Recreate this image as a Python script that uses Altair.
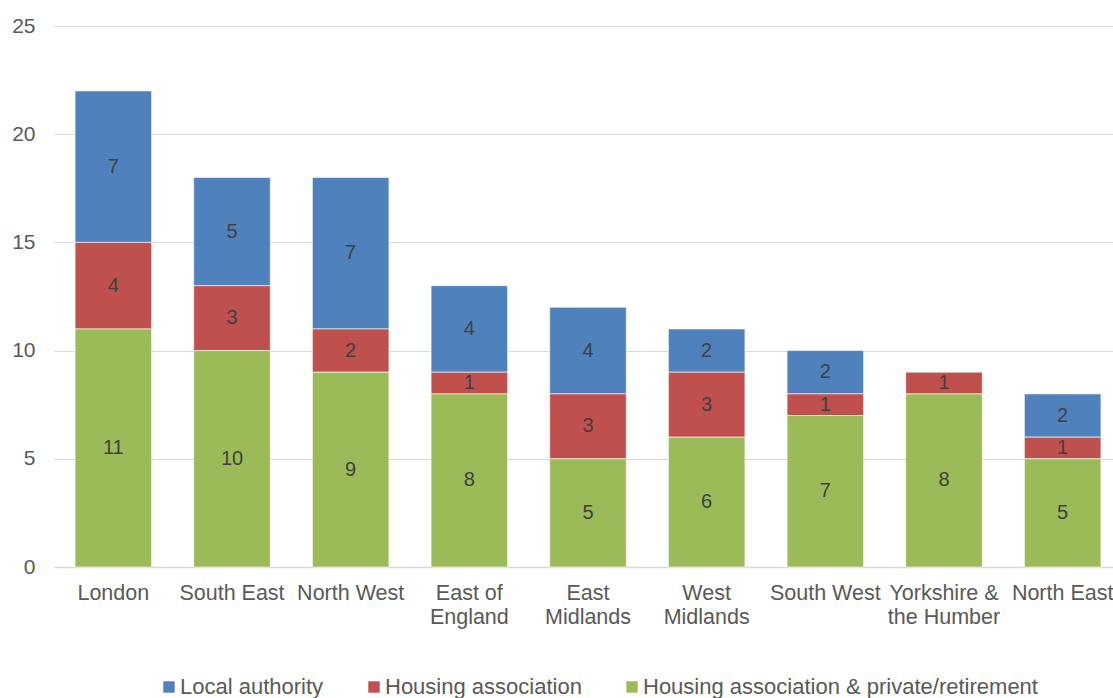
import altair as alt
import pandas as pd

regions = ["London", "South East", "North West", "East of England", "East Midlands",
           "West Midlands", "South West", "Yorkshire & the Humber", "North East"]
region_labels = ["London", "South East", "North West", "East of\nEngland", "East\nMidlands",
                 "West\nMidlands", "South West", "Yorkshire &\nthe Humber", "North East"]

series = ["Local authority", "Housing association", "Housing association & private/retirement"]
colors = ["#4F81BD", "#C0504D", "#9BBB59"]

local_authority = [7, 5, 7, 4, 4, 2, 2, 0, 2]
housing_association = [4, 3, 2, 1, 3, 3, 1, 1, 1]
ha_private_retirement = [11, 10, 9, 8, 5, 6, 7, 8, 5]

# stacking order: bottom (0) to top (2)
stack_rank = {series[2]: 0, series[1]: 1, series[0]: 2}

rows = []
for name, vals in zip(series, [local_authority, housing_association, ha_private_retirement]):
    for lab, v in zip(region_labels, vals):
        rows.append({"region": lab, "series": name, "value": v, "rank": stack_rank[name]})
df = pd.DataFrame(rows)

label_expr = "split(datum.label, '\\n')"
FONT = "Liberation Sans"
y_scale = alt.Scale(domain=[0, 25], nice=False)
# the category band runs slightly past the right edge of the view
x_scale = alt.Scale(paddingInner=0.355, paddingOuter=0.1775, range=[0, 1068])

base = alt.Chart(df).transform_stack(
    stack="value", groupby=["region"], as_=["y0", "y1"],
    sort=[alt.SortField("rank", order="ascending")]
).transform_calculate(mid="(datum.y0 + datum.y1) / 2")

x_enc = alt.X("region:N", sort=region_labels, title=None, scale=x_scale,
              axis=alt.Axis(labelAngle=0, labelExpr=label_expr, labelFont=FONT,
                            labelFontSize=21.5, labelColor="#595959", labelPadding=15,
                            labelLineHeight=24, ticks=False, domain=True, domainColor="#d9d9d9",
                            domainWidth=1.5, labelLimit=200))

bars = base.mark_bar(stroke="white", strokeWidth=0.6).encode(
    x=x_enc,
    y=alt.Y("y0:Q", title=None, scale=y_scale,
            axis=alt.Axis(values=[0, 5, 10, 15, 20, 25], domain=False, ticks=False,
                          labelFont=FONT, labelFontSize=21, labelColor="#595959",
                          labelPadding=19, gridColor="#d9d9d9", gridWidth=1.2)),
    y2="y1:Q",
    color=alt.Color("series:N", scale=alt.Scale(domain=series, range=colors),
                    legend=alt.Legend(title=None, orient="none", direction="horizontal",
                                      legendX=104, legendY=650, symbolType="square",
                                      symbolSize=130, symbolStrokeWidth=0,
                                      labelFont=FONT, labelFontSize=22,
                                      labelColor="#595959", labelLimit=500,
                                      columnPadding=39, symbolOffset=0, labelOffset=0)),
)

texts = base.transform_filter("datum.value > 0").mark_text(
    font=FONT, fontSize=20, color="#404040", baseline="middle"
).encode(
    x=alt.X("region:N", sort=region_labels, scale=x_scale),
    y=alt.Y("mid:Q", scale=y_scale),
    text="value:Q",
)

chart = alt.layer(bars, texts).properties(
    width=1059, height=541,
    background="white",
    autosize=alt.AutoSizeParams(type="none"),
    padding={"left": 54, "top": 26, "right": 0, "bottom": 131},
).configure_view(stroke=None)

chart.save("out.html", embed_options={"renderer": "svg", "actions": False})
